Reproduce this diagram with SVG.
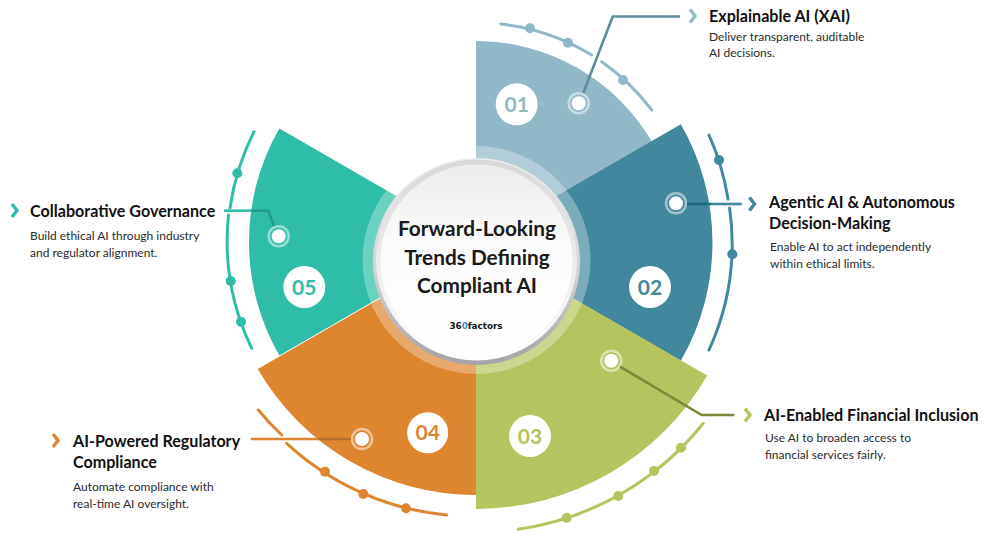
<svg xmlns="http://www.w3.org/2000/svg" width="985" height="537" viewBox="0 0 985 537">
<style>
text{font-family:Lato,"Open Sans","Liberation Sans",sans-serif}
.t{font-size:16.1px;font-weight:700;fill:#111}
.b{font-size:12px;fill:#2a2a2a}
.n{font-size:21px;font-weight:700;text-anchor:middle}
.h{font-size:20.8px;font-weight:700;fill:#1a1a1a;text-anchor:middle}
.rim{fill:none;stroke-width:3;stroke-linecap:round}
.ch{fill:none;stroke-width:3.4}
.halo{fill:none;stroke:#fff;stroke-opacity:.5;stroke-width:2.5}
.core{fill:#fff}
.c{fill:none;stroke-width:2.6}
</style>
<defs>
<linearGradient id="bevel" x1="0" y1="0" x2="0" y2="1"><stop offset="0" stop-color="#ececec"/><stop offset=".55" stop-color="#d4d4d4"/><stop offset="1" stop-color="#a4a4a8"/></linearGradient>
<linearGradient id="lip" x1="0" y1="0" x2="0" y2="1"><stop offset="0" stop-color="#d8d8d8"/><stop offset="1" stop-color="#ffffff"/></linearGradient>
<linearGradient id="face" x1="0" y1="0" x2="0" y2="1"><stop offset="0" stop-color="#ececec"/><stop offset=".4" stop-color="#fbfbfb"/><stop offset="1" stop-color="#ffffff"/></linearGradient>
</defs>
<rect width="985" height="537" fill="#fff"/>

<g id="node-05">
<path fill="#2fbda8" d="M476,242 L279.4,128.5 A227 227 0 0 0 279.4,355.5 Z"/>
<path class="rim" stroke="#2fbda8" d="M254,131.7 A248 248 0 0 0 230,208 M228.5,215 A248 248 0 0 0 251.7,348.3"/>
<g fill="#2fbda8"><circle cx="237.3" cy="173.3" r="5"/><circle cx="230.7" cy="281" r="5"/><circle cx="241" cy="321.7" r="5"/></g>
<circle cx="304.3" cy="287" r="21" fill="#fff"/>
<text class="n" x="304.3" y="294.5" fill="#2fbda8">05</text>
<circle class="halo" cx="278.7" cy="236.3" r="10"/><circle class="core" cx="278.7" cy="236.3" r="7"/>
<polyline class="ch" stroke="#2fbda8" points="12,204 17,210.5 12,217"/>
<text class="t" x="30" y="217">Collaborative Governance</text>
<text class="b" x="30" y="240">Build ethical AI through industry</text>
<text class="b" x="30" y="257">and regulator alignment.</text>
</g>

<g id="node-01">
<path fill="#92b8c8" d="M476,250 V41 A204 204 0 0 1 652.7,143 Z"/>
<path class="rim" stroke="#92b8c8" d="M500.7,24 A220 220 0 0 1 591.7,55 M601.7,61.7 A220 220 0 0 1 651.7,110"/>
<g fill="#92b8c8"><circle cx="530" cy="28.3" r="5"/><circle cx="568" cy="42.7" r="5"/><circle cx="623" cy="80" r="5"/></g>
<circle cx="516.7" cy="104.3" r="21" fill="#fff"/>
<text class="n" x="516.7" y="111.8" fill="#92b8c8">01</text>
<circle class="halo" cx="578.7" cy="103.3" r="10"/><circle class="core" cx="578.7" cy="103.3" r="7"/>
<polyline class="ch" stroke="#92b8c8" points="690,9.5 695,16 690,22.5"/>
<text class="t" x="709" y="22">Explainable AI (XAI)</text>
<text class="b" x="709" y="41">Deliver transparent, auditable</text>
<text class="b" x="709" y="57">AI decisions.</text>
</g>

<g id="node-02">
<path fill="#41889c" d="M476,242.5 L680.8,124.3 A236.5 236.5 0 0 1 680.8,360.7 Z"/>
<path class="rim" stroke="#41889c" d="M709,135 A256.7 256.7 0 0 1 728,199 M729.6,208 A256.7 256.7 0 0 1 709,350"/>
<g fill="#41889c"><circle cx="719" cy="160" r="5"/><circle cx="732.3" cy="254.3" r="5"/></g>
<circle cx="650" cy="287" r="21" fill="#fff"/>
<text class="n" x="650" y="294.5" fill="#41889c">02</text>
<circle class="halo" cx="676" cy="203.3" r="10"/><circle class="core" cx="676" cy="203.3" r="7"/>
<polyline class="ch" stroke="#41889c" points="749.5,197.5 754.5,204 749.5,210.5"/>
<text class="t" x="769" y="208">Agentic AI &amp; Autonomous</text>
<text class="t" x="769" y="229">Decision-Making</text>
<text class="b" x="770" y="251">Enable AI to act independently</text>
<text class="b" x="770" y="268">within ethical limits.</text>
</g>

<g id="node-03">
<path fill="#b5c45e" d="M476,242 L707.2,375.5 A267 267 0 0 1 476,509 Z"/>
<path class="rim" stroke="#b5c45e" d="M703.3,423.3 A289.5 289.5 0 0 1 518.3,529.3"/>
<g fill="#b5c45e"><circle cx="681" cy="447.7" r="5"/><circle cx="654" cy="471" r="5"/><circle cx="618.3" cy="496" r="5"/><circle cx="566.7" cy="517.7" r="5"/></g>
<circle cx="530" cy="436" r="21" fill="#fff"/>
<text class="n" x="530" y="443.5" fill="#b5c45e">03</text>
<circle class="halo" cx="611.3" cy="360.7" r="10"/><circle class="core" cx="611.3" cy="360.7" r="7"/>
<polyline class="ch" stroke="#b5c45e" points="745,408.5 750,415 745,421.5"/>
<text class="t" x="764" y="421">AI-Enabled Financial Inclusion</text>
<text class="b" x="765" y="442">Use AI to broaden access to</text>
<text class="b" x="765" y="459">financial services fairly.</text>
</g>

<g id="node-04">
<path fill="#de852f" d="M476,243 V495 A252 252 0 0 1 257.8,369 Z"/>
<path class="rim" stroke="#de852f" d="M258.3,410 A274 274 0 0 0 281.7,435 M286.7,443.3 A274 274 0 0 0 446.7,515"/>
<g fill="#de852f"><circle cx="325" cy="471.7" r="5"/><circle cx="363.3" cy="494" r="5"/><circle cx="406" cy="508.3" r="5"/></g>
<circle cx="427.7" cy="432.7" r="20.5" fill="#fff"/>
<text class="n" x="427.7" y="440" fill="#de852f">04</text>
<circle class="halo" cx="362" cy="439" r="10"/><circle class="core" cx="362" cy="439" r="7"/>
<polyline class="ch" stroke="#de852f" points="53,434 58,440.5 53,447"/>
<text class="t" x="73" y="447">AI-Powered Regulatory</text>
<text class="t" x="73" y="468">Compliance</text>
<text class="b" x="73" y="491">Automate compliance with</text>
<text class="b" x="73" y="508">real-time AI oversight.</text>
</g>

<g id="connectors">
<polyline class="c" stroke="#5e8c9c" points="680,16.5 612.7,16.5 583.3,93"/>
<line class="c" stroke="#1e6a7c" x1="687" y1="204" x2="711" y2="204"/>
<line class="c" stroke="#41889c" x1="711" y1="204" x2="741.7" y2="204"/>
<polyline class="c" stroke="#7d8a3a" points="620,366.7 701.7,415 734.3,415"/>
<line class="c" stroke="#de852f" x1="250.7" y1="439" x2="317.6" y2="439"/>
<line class="c" stroke="#b87030" x1="317.6" y1="439" x2="351" y2="439"/>
<line class="c" stroke="#2fbda8" x1="224" y1="210.7" x2="251.3" y2="210.7"/>
<polyline class="c" stroke="#289a8a" points="251.3,210.7 268.3,210.7 274,226"/>
</g>

<g id="hub">
<circle cx="476.5" cy="260" r="114" fill="#fff" fill-opacity=".3"/>
<circle cx="476.5" cy="261.5" r="103.5" fill="url(#bevel)"/>
<circle cx="476.5" cy="260" r="100.5" fill="url(#lip)"/>
<circle cx="476.5" cy="260.5" r="96" fill="url(#face)"/>
<text class="h" x="477" y="235.5">Forward-Looking</text>
<text class="h" x="477" y="264.5">Trends Defining</text>
<text class="h" x="477" y="293">Compliant AI</text>
<text x="476" y="329" text-anchor="middle" font-size="8.8" font-weight="700" fill="#111" style="font-family:'DejaVu Sans',sans-serif">36<tspan fill="#3c8fc4">0</tspan>factors</text>
</g>
</svg>
